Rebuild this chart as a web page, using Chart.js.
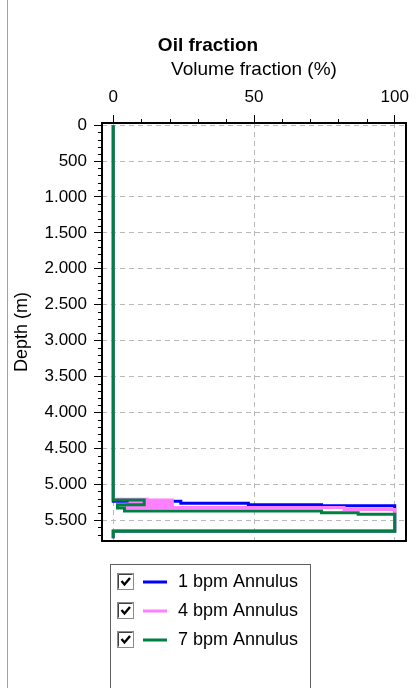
<!DOCTYPE html>
<html>
<head>
<meta charset="utf-8">
<title>Oil fraction</title>
<script src="https://cdn.jsdelivr.net/npm/chart.js@4.4.1/dist/chart.umd.min.js"></script>
<style>
  html, body { margin: 0; padding: 0; background: #fff; }
  #wrap { width: 420px; height: 688px; }
</style>
</head>
<body>
<div id="wrap"><canvas id="chart" width="420" height="688"></canvas></div>
<script>
// Oil volume fraction along the annulus, one profile per pump rate
const seriesNames = ["1 bpm Annulus", "4 bpm Annulus", "7 bpm Annulus"];
const seriesColors = ["#0000ff", "#ff80ff", "#008040"];

// depth (m) where the fraction changes, and the fraction (%) from that depth down
const depth1 = [0, 5238, 5266, 5285, 5300, 5650, 5750];
const oil1 = [0, 24, 48, 74, 100, 0, 0];

const depth2 = [0, 5208, 5220, 5232, 5244, 5256, 5268, 5280, 5292, 5305, 5322, 5350, 5650, 5750];
const oil2 = [0, 12, 21, 6, 21, 6, 21, 5, 21, 5, 82, 100, 0, 0];

const depth3 = [0, 5218, 5285, 5330, 5372, 5395, 5418, 5655, 5750];
const oil3 = [0, 11, 1.5, 4, 74, 87, 100, 0, 0];

// axis ticks
const xTicks = [0, 50, 100];
const yTicks = [0, 500, 1000, 1500, 2000, 2500, 3000, 3500, 4000, 4500, 5000, 5500];
const yTickLabels = ["0", "500", "1.000", "1.500", "2.000", "2.500", "3.000", "3.500",
                     "4.000", "4.500", "5.000", "5.500"];
const xMinorStep = 10;
const yMinorStep = 100;

const allDepths = [depth1, depth2, depth3];
const allOil = [oil1, oil2, oil3];

const FONT = "'Liberation Sans', Arial, sans-serif";
Chart.defaults.font.family = FONT;
Chart.defaults.color = "#000";

function toPoints(depths, values) {
    return depths.map((d, i) => ({ x: values[i], y: d }));
}

function noPadding(s) {
    s.paddingLeft = 0; s.paddingRight = 0; s.paddingTop = 0; s.paddingBottom = 0;
}

// minor ticks, plot frame and the checkbox legend
const extras = {
    id: "extras",
    afterDraw(chart) {
        const { ctx, chartArea: a, scales } = chart;
        const x = scales.x, y = scales.y;
        ctx.save();

        ctx.strokeStyle = "#a0a0a0";
        ctx.lineWidth = 1;
        ctx.beginPath();
        ctx.moveTo(7.5, 0);
        ctx.lineTo(7.5, chart.height);
        ctx.stroke();

        ctx.strokeStyle = "#000";
        ctx.beginPath();
        for (let v = 0; v <= 100; v += xMinorStep) {
            if (xTicks.includes(v)) continue;
            const px = Math.round(x.getPixelForValue(v)) + 0.5;
            ctx.moveTo(px, a.top - 4);
            ctx.lineTo(px, a.top);
        }
        for (let d = 0; d <= y.max; d += yMinorStep) {
            if (yTicks.includes(d)) continue;
            const py = Math.round(y.getPixelForValue(d)) + 0.5;
            ctx.moveTo(a.left - 4, py);
            ctx.lineTo(a.left, py);
        }
        ctx.stroke();

        ctx.lineWidth = 2;
        ctx.strokeRect(a.left, a.top, a.right - a.left, a.bottom - a.top);

        // legend
        ctx.lineWidth = 1;
        ctx.strokeStyle = "#606060";
        ctx.strokeRect(110.5, 564.5, 200, chart.height);
        ctx.font = "18px " + FONT;
        ctx.textBaseline = "middle";
        seriesNames.forEach((name, i) => {
            const cy = 582 + i * 29;
            const bx = 117.5, by = cy - 8.5;
            ctx.fillStyle = "#fff";
            ctx.fillRect(bx, by, 16, 16);
            ctx.lineWidth = 1;
            ctx.strokeStyle = "#8a8a8a";
            ctx.strokeRect(bx, by, 16, 16);
            ctx.strokeStyle = "#404040";
            ctx.beginPath();
            ctx.moveTo(bx + 1, by + 15);
            ctx.lineTo(bx + 1, by + 1);
            ctx.lineTo(bx + 15, by + 1);
            ctx.stroke();

            ctx.strokeStyle = "#000";
            ctx.lineWidth = 2.4;
            ctx.beginPath();
            ctx.moveTo(bx + 4, by + 7.5);
            ctx.lineTo(bx + 7, by + 11);
            ctx.lineTo(bx + 12.5, by + 4.5);
            ctx.stroke();

            ctx.strokeStyle = seriesColors[i];
            ctx.lineWidth = 3;
            ctx.beginPath();
            ctx.moveTo(143, cy);
            ctx.lineTo(167, cy);
            ctx.stroke();

            ctx.fillStyle = "#000";
            ctx.fillText(name, 178, cy);
        });

        ctx.restore();
    }
};

const ctx = document.getElementById("chart").getContext("2d");
new Chart(ctx, {
    type: "scatter",
    data: {
        datasets: seriesNames.map((name, i) => ({
            label: name,
            data: toPoints(allDepths[i], allOil[i]),
            borderColor: seriesColors[i],
            backgroundColor: seriesColors[i],
            borderWidth: 3,
            showLine: true,
            stepped: "after",
            pointRadius: 0,
            order: 2 - i
        }))
    },
    options: {
        responsive: false,
        animation: false,
        layout: { padding: { left: 10, right: 14, top: 0, bottom: 147 } },
        plugins: {
            legend: { display: false },
            tooltip: { enabled: false },
            title: {
                display: true,
                text: "Oil fraction",
                color: "#000",
                font: { size: 19, weight: "bold" },
                padding: { top: 34, bottom: 2 }
            }
        },
        scales: {
            x: {
                type: "linear",
                position: "top",
                min: -4,
                max: 104,
                afterBuildTicks: s => { s.ticks = xTicks.map(v => ({ value: v })); },
                afterFit: s => { s.height = 64.2; noPadding(s); },
                ticks: { font: { size: 17 }, color: "#000", padding: 7, maxRotation: 0, autoSkip: false },
                grid: { color: "#b8b8b8", lineWidth: 1, tickLength: 8, tickColor: "#000", tickWidth: 1 },
                border: { display: false, dash: [5, 4] },
                title: {
                    display: true,
                    text: "Volume fraction (%)",
                    color: "#000",
                    font: { size: 19 },
                    padding: { top: 0, bottom: 0 }
                }
            },
            y: {
                type: "linear",
                reverse: true,
                min: -30,
                max: 5790,
                afterBuildTicks: s => { s.ticks = yTicks.map(v => ({ value: v })); },
                afterFit: s => { s.width = 92; noPadding(s); },
                ticks: {
                    font: { size: 17 },
                    color: "#000",
                    padding: 7,
                    autoSkip: false,
                    callback: v => yTickLabels[yTicks.indexOf(v)]
                },
                grid: { color: "#b8b8b8", lineWidth: 1, tickLength: 8, tickColor: "#000", tickWidth: 1 },
                border: { display: false, dash: [5, 4] },
                title: {
                    display: true,
                    text: "Depth (m)",
                    color: "#000",
                    font: { size: 18 },
                    padding: { top: 1, bottom: 0 }
                }
            }
        }
    },
    plugins: [extras]
});
</script>
</body>
</html>
